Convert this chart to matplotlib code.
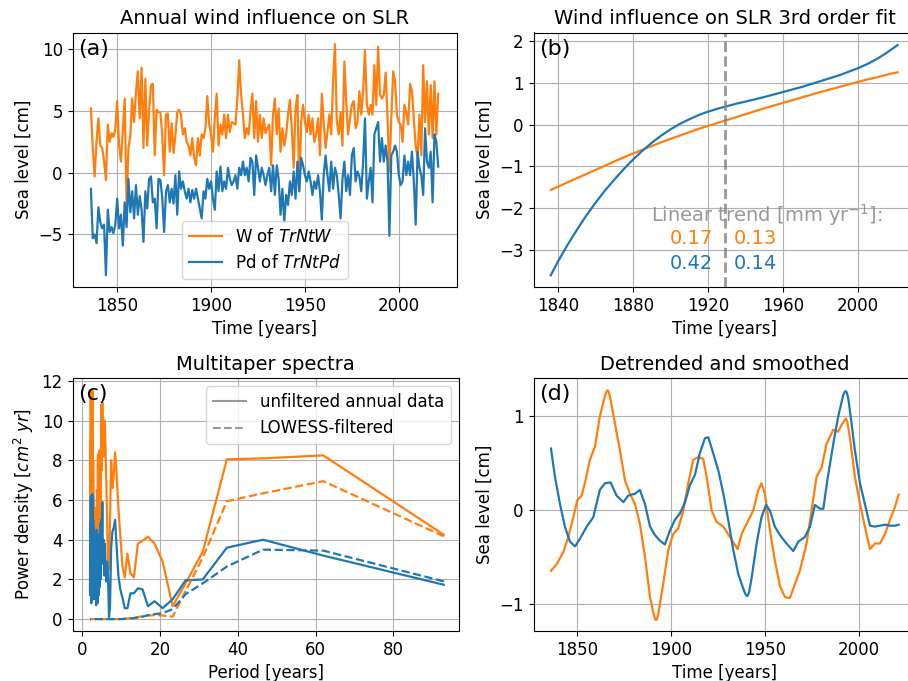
import numpy as np
import matplotlib
matplotlib.use("Agg")
import matplotlib.pyplot as plt
from matplotlib.lines import Line2D

plt.rcParams['font.size'] = 12

c_w = '#ff7f0e'
c_pd = '#1f77b4'

# (a) annual wind influence, 1836-2021 [cm]
w_annual = [
    5.2, 2.0, -0.3, 2.5, 4.4, 2.2, 2.0, 1.0, -0.6, 3.9,
    2.5, 3.2, 2.9, 3.5, 5.8, 2.2, 0.9, 3.5, 6.0, -2.6,
    2.0, 3.0, 6.0, 4.1, 6.5, 8.2, 4.4, 8.5, 2.0, 7.6,
    2.2, 5.0, 7.1, 7.2, 1.4, 5.1, 4.9, 4.9, 3.0, -0.2,
    4.7, 4.8, 1.7, 4.0, 1.6, 3.0, 4.9, 5.1,
    4.7, 3.1, 3.6, 2.5, 2.2, 1.4, 2.8, 1.2, 0.6, 2.8,
    1.4, 3.1, 2.8, 3.6, 6.2, 3.9, 3.1, 1.7, 4.4, 6.4,
    2.2, 3.9, 3.1, 4.7, 2.8, 4.7, 3.3, 4.1, 4.0, 3.9,
    6.0, 9.1, 6.3, 4.7, 2.8, 3.6, 3.1, 4.9, 6.4, 2.8,
    5.8, 2.5, 4.7, 2.8, 4.4, 3.2, 3.6,
    3.9, 0.6, 4.7, 6.0, 3.1, 5.2, 1.7, 3.6, 2.2, 3.1,
    4.7, 5.9, 3.6, 0.4, 5.2, 6.3, -1.5, 4.1, 5.5, 4.1,
    3.3, 4.7, 3.1, 4.4, 2.5, 3.1, 4.4, 1.4, 6.4, 4.1,
    2.0, 3.3, 4.7, 3.1, 7.4, 10.4, 4.1, 3.1, 4.9, 2.2,
    9.0, 5.8, 3.1, 4.4, 5.5, 5.8, 3.6, 4.1,
    6.6, 4.7, 6.6, 9.9, 5.5, 4.7, 5.5, 4.7, 8.7, 5.5,
    10.2, 6.3, 6.0, 6.3, 8.1, 4.4, 0.1, 4.4, 8.2, 7.4,
    4.7, 4.1, 3.9, 2.5, 5.5, 4.9, 3.9, 7.2, 6.6, 4.4,
    2.2, 1.2, 4.7, 1.4, 8.7, 4.1, 7.4, 3.1, 7.1, 2.8,
    7.4, 3.1, 6.4,
]
pd_annual = [
    -1.3, -5.3, -5.0, -5.7, -2.8, -4.0, -4.5, -4.2, -8.3, -3.0,
    -4.8, -4.4, -4.9, -4.2, -2.1, -4.5, -3.4, -5.9, -2.4, -4.4,
    -0.5, -3.2, -1.5, -3.7, -1.0, -3.4, -1.9, -3.0, -5.6, -1.5,
    -2.9, -0.5, -0.3, -2.4, -2.1, -4.5, -0.5, -0.6, -2.0, -4.8,
    -1.5, -1.0, -2.4, -1.3, -2.5, -0.2, -3.4, 0.1,
    -1.3, -0.7, -1.5, -2.1, -1.3, -2.4, -1.4, -2.1, -1.3, -2.1,
    -2.9, -3.7, -1.5, -2.1, -0.5, -1.3, -0.7, -2.1, -3.0, 0.1,
    -1.5, 0.5, -1.5, -0.7, -1.3, 0.4, -0.5, -1.0, -0.7, -0.2,
    -1.3, 0.4, -0.2, 0.9, -0.2, 0.4, -0.7, 1.2, 0.9, -1.8,
    1.4, 0.4, -0.7, 0.4, -0.2, -1.0, -0.2,
    0.4, -1.5, 0.6, -1.8, 0.6, -0.5, -3.4, -1.3, -4.0, -1.8,
    -2.6, -0.7, -1.8, 0.1, -2.1, 0.9, -1.5, 1.2, 0.6, -0.2,
    -0.7, 0.1, -0.7, -1.8, -0.7, -1.3, -0.2, -1.5, -3.8, -0.2,
    1.4, -0.2, -1.5, 0.9, -1.3, 0.4, -0.2, -1.8, -3.7, -0.5,
    0.9, -1.5, -0.2, -1.8, 1.4, 2.0, -0.7, 0.1,
    -0.3, -1.5, 0.9, 4.4, -2.1, -0.7, 0.4, -2.4, 3.1, 3.6,
    4.1, 0.9, 2.8, 0.9, 2.2, 0.9, -5.1, 1.4, 1.7, 2.2,
    1.7, -0.2, -1.0, -0.7, 1.4, -0.2, 0.9, -0.2, 1.7, -0.7,
    -4.2, 1.7, 0.4, -0.2, -1.8, 3.6, 0.9, 0.4, 1.7, -2.4,
    3.1, 2.5, 0.5,
]
years = np.arange(1836, 1836 + len(w_annual))

# (b) 3rd order fits
fit_years = [1836, 1840, 1845, 1850, 1855, 1860, 1865, 1870, 1875, 1880,
             1885, 1890, 1895, 1900, 1905, 1910, 1915, 1920, 1925, 1930,
             1935, 1940, 1950, 1960, 1970, 1980, 1990, 2000, 2005, 2010,
             2015, 2021]
w_fit = [-1.56, -1.48, -1.38, -1.28, -1.18, -1.08, -0.98, -0.88, -0.78, -0.69,
         -0.60, -0.51, -0.42, -0.34, -0.26, -0.18, -0.10, -0.03, 0.04, 0.11,
         0.18, 0.25, 0.39, 0.52, 0.65, 0.78, 0.90, 1.02, 1.08, 1.13,
         1.19, 1.25]
pd_fit = [-3.60, -3.26, -2.87, -2.51, -2.17, -1.86, -1.57, -1.31, -1.06, -0.83,
          -0.62, -0.43, -0.26, -0.11, 0.02, 0.13, 0.23, 0.31, 0.38, 0.44,
          0.50, 0.55, 0.66, 0.78, 0.90, 1.04, 1.18, 1.35, 1.45, 1.57,
          1.71, 1.90]
split_year = 1929
trend_w = ['0.17', '0.13']
trend_pd = ['0.42', '0.14']

# (c) multitaper spectra
periods = [93.0, 62.0, 46.5, 37.2, 31.0, 26.57, 23.25, 20.67, 18.6, 16.91,
           15.5, 14.31, 13.29, 12.4, 11.63, 10.94, 10.33, 9.79, 9.3, 8.86,
           8.45, 8.09, 7.75, 7.44, 7.15, 6.89, 6.64, 6.41, 6.2, 6.0,
           5.81, 5.64, 5.47, 5.31, 5.17, 5.03, 4.89, 4.77, 4.65, 4.54,
           4.43, 4.33, 4.23, 4.13, 4.04, 3.96, 3.88, 3.8, 3.72, 3.65,
           3.58, 3.51, 3.44, 3.38, 3.32, 3.26, 3.21, 3.15, 3.1, 3.05,
           3.0, 2.95, 2.91, 2.86, 2.82, 2.78, 2.74, 2.7, 2.66, 2.62,
           2.58, 2.55, 2.51, 2.48, 2.45, 2.42, 2.38, 2.35, 2.33, 2.3,
           2.27, 2.24, 2.21, 2.19, 2.16, 2.14, 2.11, 2.09, 2.07, 2.04,
           2.02, 2.0]
w_psd = [4.25, 8.25, 8.1, 8.05, 3.4, 1.8, 0.65, 2.9, 3.8, 4.15,
         3.95, 3.8, 2.1, 2.3, 3.3, 2.1, 2.7, 4.2, 5.6, 7.3,
         8.4, 7.2, 6.6, 8.0, 5.0, 2.6, 2.4, 5.0, 6.8, 8.5,
         10.0, 8.2, 10.0, 9.0, 10.9, 7.5, 10.8, 6.0, 8.2, 4.5,
         8.5, 5.5, 7.0, 3.0, 8.3, 5.5, 4.0, 6.5, 2.5, 5.5,
         3.5, 1.8, 5.6, 3.0, 4.8, 2.0, 3.5, 5.0, 1.5, 3.0,
         4.5, 2.2, 6.0, 3.5, 8.0, 5.0, 9.5, 6.5, 11.5, 9.0,
         11.0, 6.0, 4.0, 7.5, 3.0, 5.0, 2.0, 6.0, 3.5, 8.0,
         4.5, 7.0, 10.0, 11.5, 7.0, 4.0, 6.5, 9.0, 5.5, 3.0,
         2.0, 1.5]
pd_psd = [1.73, 3.2, 4.0, 3.6, 2.0, 1.95, 1.0, 0.55, 0.9, 0.65,
          1.5, 1.55, 1.3, 1.3, 0.55, 0.55, 1.1, 1.5, 2.2, 3.6,
          5.0, 4.6, 4.4, 3.6, 0.6, 0.1, 2.2, 2.9, 1.9, 2.5,
          3.8, 2.2, 4.0, 2.8, 5.9, 3.5, 5.0, 2.0, 4.8, 2.5,
          1.6, 3.6, 1.2, 4.3, 2.0, 0.8, 3.0, 1.5, 4.5, 2.2,
          0.7, 2.5, 4.0, 1.8, 3.0, 1.0, 2.2, 3.5, 1.4, 2.8,
          4.6, 2.0, 1.0, 3.2, 5.0, 2.5, 1.2, 3.8, 6.3, 4.0,
          2.2, 1.0, 3.5, 5.5, 2.8, 1.5, 4.2, 2.0, 0.8, 3.2,
          5.0, 2.4, 6.2, 4.0, 1.5, 3.0, 4.8, 2.0, 1.2, 3.5,
          2.6, 1.4]
w_psd_lowess = [4.17, 6.95, 6.34, 5.94, 3.1, 1.4, 0.12, 0.18, 0.2, 0.17,
                0.14, 0.1, 0.07, 0.05, 0.03, 0.02, 0.01, 0.0, 0.0, 0.0,
                0.0, 0.0, 0.0, 0.0, 0.0, 0.0, 0.0, 0.0, 0.0, 0.0,
                0.0, 0.0, 0.0, 0.0, 0.0, 0.0, 0.0, 0.0, 0.0, 0.0,
                0.0, 0.0, 0.0, 0.0, 0.0, 0.0, 0.0, 0.0, 0.0, 0.0,
                0.0, 0.0, 0.0, 0.0, 0.0, 0.0, 0.0, 0.0, 0.0, 0.0,
                0.0, 0.0, 0.0, 0.0, 0.0, 0.0, 0.0, 0.0, 0.0, 0.0,
                0.0, 0.0, 0.0, 0.0, 0.0, 0.0, 0.0, 0.0, 0.0, 0.0,
                0.0, 0.0, 0.0, 0.0, 0.0, 0.0, 0.0, 0.0, 0.0, 0.0,
                0.0, 0.0]
pd_psd_lowess = [1.9, 3.45, 3.5, 2.65, 1.8, 1.25, 0.5, 0.3, 0.25, 0.2,
                 0.12, 0.08, 0.05, 0.03, 0.02, 0.01, 0.0, 0.0, 0.0, 0.0,
                 0.0, 0.0, 0.0, 0.0, 0.0, 0.0, 0.0, 0.0, 0.0, 0.0,
                 0.0, 0.0, 0.0, 0.0, 0.0, 0.0, 0.0, 0.0, 0.0, 0.0,
                 0.0, 0.0, 0.0, 0.0, 0.0, 0.0, 0.0, 0.0, 0.0, 0.0,
                 0.0, 0.0, 0.0, 0.0, 0.0, 0.0, 0.0, 0.0, 0.0, 0.0,
                 0.0, 0.0, 0.0, 0.0, 0.0, 0.0, 0.0, 0.0, 0.0, 0.0,
                 0.0, 0.0, 0.0, 0.0, 0.0, 0.0, 0.0, 0.0, 0.0, 0.0,
                 0.0, 0.0, 0.0, 0.0, 0.0, 0.0, 0.0, 0.0, 0.0, 0.0,
                 0.0, 0.0]

# (d) detrended and smoothed
w_smooth_years = [1836, 1839, 1842.6, 1845.2, 1847.9, 1850, 1852.3, 1854, 1856.7, 1859.4,
                  1862, 1864.2, 1865.4, 1866.1, 1866.8, 1867.7, 1870, 1872.7, 1875.4, 1878,
                  1880.7, 1883.3, 1886, 1888.7, 1890.5, 1891.5, 1892.3, 1893.1, 1895.7, 1898.4,
                  1901, 1903.7, 1906.4, 1909, 1911.7, 1914.4, 1917, 1918.8, 1921.5, 1924.1,
                  1927.7, 1931.2, 1935.3, 1937.4, 1940.1, 1943.6, 1946.3, 1948, 1949.8, 1952.5,
                  1955.1, 1957.8, 1960.5, 1963.1, 1965.8, 1968.4, 1972, 1974.6, 1977.3, 1980,
                  1982.6, 1986.2, 1988.8, 1990.6, 1992.2, 1992.9, 1993.7, 1995, 1997.7, 2000.4,
                  2003, 2005.7, 2008.3, 2011, 2013.7, 2016.3, 2019, 2021]
w_smooth = [-0.65, -0.58, -0.45, -0.29, -0.08, 0.10, 0.15, 0.28, 0.53, 0.67,
            0.99, 1.17, 1.25, 1.27, 1.25, 1.17, 0.92, 0.63, 0.31, 0.17,
            0.06, -0.15, -0.50, -0.93, -1.10, -1.17, -1.17, -1.11, -0.79, -0.43,
            -0.26, -0.20, -0.01, 0.28, 0.53, 0.56, 0.54, 0.35, -0.01, -0.13,
            -0.18, -0.29, -0.42, -0.26, -0.15, -0.01, 0.21, 0.28, 0.17, -0.22,
            -0.54, -0.81, -0.93, -0.94, -0.79, -0.65, -0.36, -0.01, 0.35, 0.45,
            0.70, 0.85, 0.83, 0.90, 0.95, 0.97, 0.93, 0.77, 0.35, 0.06,
            -0.18, -0.42, -0.36, -0.36, -0.26, -0.11, 0.03, 0.16]
pd_smooth_years = [1836, 1838.1, 1840.8, 1843.4, 1846.1, 1848.8, 1851.4, 1855, 1858.5, 1862,
                   1864.7, 1867.7, 1870.9, 1874.5, 1877.1, 1880.7, 1883.3, 1886, 1888.7, 1891.3,
                   1894, 1896.6, 1899.3, 1901.9, 1904.6, 1907.3, 1909.9, 1912.6, 1915.2, 1917.9,
                   1919.7, 1922.3, 1925, 1927.7, 1930.3, 1933, 1935.6, 1938.3, 1939.5, 1940.4,
                   1941.4, 1942.8, 1945.4, 1948, 1950.4, 1952.5, 1955.1, 1957.8, 1961.3, 1964.9,
                   1967.6, 1971.1, 1973.8, 1976.4, 1979.1, 1980.9, 1983, 1986.2, 1988.8, 1991.5,
                   1992.5, 1993.3, 1994.1, 1995, 1997.7, 2000.4, 2003, 2005.7, 2008.3, 2011,
                   2013.7, 2016.3, 2019, 2021]
pd_smooth = [0.65, 0.35, 0.06, -0.18, -0.34, -0.39, -0.31, -0.18, -0.08, 0.21,
             0.28, 0.29, 0.15, 0.08, 0.15, 0.17, 0.21, 0.06, -0.18, -0.27,
             -0.33, -0.37, -0.22, -0.11, -0.04, 0.08, 0.26, 0.37, 0.60, 0.76,
             0.77, 0.60, 0.42, 0.17, -0.11, -0.43, -0.68, -0.84, -0.90, -0.92,
             -0.88, -0.72, -0.36, -0.08, 0.05, -0.01, -0.18, -0.27, -0.36, -0.44,
             -0.34, -0.29, -0.18, 0.05, 0.01, 0.01, 0.31, 0.70, 0.99, 1.22,
             1.26, 1.25, 1.19, 1.06, 0.63, 0.28, 0.06, -0.17, -0.18, -0.17,
             -0.16, -0.17, -0.17, -0.16]


W, H = 908, 681
fig = plt.figure(figsize=(W / 100, H / 100), dpi=100)


def box(left, right, top, bottom):
    return [left / W, 1 - bottom / H, (right - left) / W, (bottom - top) / H]


ax_a = fig.add_axes(box(72.5, 457, 32.5, 287))
ax_b = fig.add_axes(box(533.5, 916, 32.5, 287))
ax_c = fig.add_axes(box(72.5, 459, 378, 631))
ax_d = fig.add_axes(box(533.5, 916, 378, 631))

# (a)
ax_a.plot(years, w_annual, color=c_w, lw=1.6, label='W of $TrNtW$')
ax_a.plot(years, pd_annual, color=c_pd, lw=1.6, label='Pd of $TrNtPd$')
ax_a.set_xlim(1826.2, 2031)
ax_a.set_ylim(-9.25, 11.35)
ax_a.set_xticks([1850, 1900, 1950, 2000])
ax_a.set_yticks([-5, 0, 5, 10])
ax_a.set_title('Annual wind influence on SLR', fontsize=14)
ax_a.set_xlabel('Time [years]')
ax_a.set_ylabel('Sea level [cm]')
ax_a.legend(loc='lower center')
ax_a.grid(True)

# (b)
ax_b.plot(fit_years, w_fit, color=c_w, lw=1.6)
ax_b.plot(fit_years, pd_fit, color=c_pd, lw=1.6)
ax_b.axvline(split_year, color='grey', ls='--', lw=2, alpha=0.8)
ax_b.text(1951, -2.16, 'Linear trend [mm yr$^{-1}$]:', color='grey', alpha=0.8,
          fontsize=14, ha='center', va='center')
ax_b.text(1911.2, -2.72, trend_w[0], color=c_w, fontsize=14, ha='center', va='center')
ax_b.text(1945.3, -2.72, trend_w[1], color=c_w, fontsize=14, ha='center', va='center')
ax_b.text(1911.2, -3.32, trend_pd[0], color=c_pd, fontsize=14, ha='center', va='center')
ax_b.text(1945.3, -3.32, trend_pd[1], color=c_pd, fontsize=14, ha='center', va='center')
ax_b.set_xlim(1826.8, 2030.8)
ax_b.set_ylim(-3.88, 2.2)
ax_b.set_xticks([1840, 1880, 1920, 1960, 2000])
ax_b.set_title('Wind influence on SLR 3rd order fit', fontsize=14)
ax_b.set_xlabel('Time [years]')
ax_b.set_ylabel('Sea level [cm]')
ax_b.grid(True)

# (c)
ax_c.plot(periods, w_psd, color=c_w, lw=1.6)
ax_c.plot(periods, pd_psd, color=c_pd, lw=1.6)
ax_c.plot(periods, w_psd_lowess, color=c_w, ls='--', lw=1.6)
ax_c.plot(periods, pd_psd_lowess, color=c_pd, ls='--', lw=1.6)
ax_c.set_xlim(-2.5, 96.9)
ax_c.set_ylim(-0.6, 12.15)
ax_c.set_xticks([0, 20, 40, 60, 80])
ax_c.set_yticks([0, 2, 4, 6, 8, 10, 12])
ax_c.set_title('Multitaper spectra', fontsize=14)
ax_c.set_xlabel('Period [years]')
ax_c.set_ylabel('Power density [$cm^2$ $yr$]')
handles = [Line2D([], [], color='grey', alpha=0.8, label='unfiltered annual data'),
           Line2D([], [], color='grey', alpha=0.8, ls='--', label='LOWESS-filtered')]
ax_c.legend(handles=handles, loc='upper right')
ax_c.grid(True)

# (d)
ax_d.plot(w_smooth_years, w_smooth, color=c_w, lw=1.6)
ax_d.plot(pd_smooth_years, pd_smooth, color=c_pd, lw=1.6)
ax_d.set_xlim(1826.7, 2030.2)
ax_d.set_ylim(-1.29, 1.40)
ax_d.set_xticks([1850, 1900, 1950, 2000])
ax_d.set_yticks([-1, 0, 1])
ax_d.set_title('Detrended and smoothed', fontsize=14)
ax_d.set_xlabel('Time [years]')
ax_d.set_ylabel('Sea level [cm]')
ax_d.grid(True)

for ax, lab in zip([ax_a, ax_b, ax_c, ax_d], ['(a)', '(b)', '(c)', '(d)']):
    ax.text(0.015, 0.975, lab, transform=ax.transAxes, fontsize=16, ha='left', va='top')

fig.savefig('out.png', dpi=100)
